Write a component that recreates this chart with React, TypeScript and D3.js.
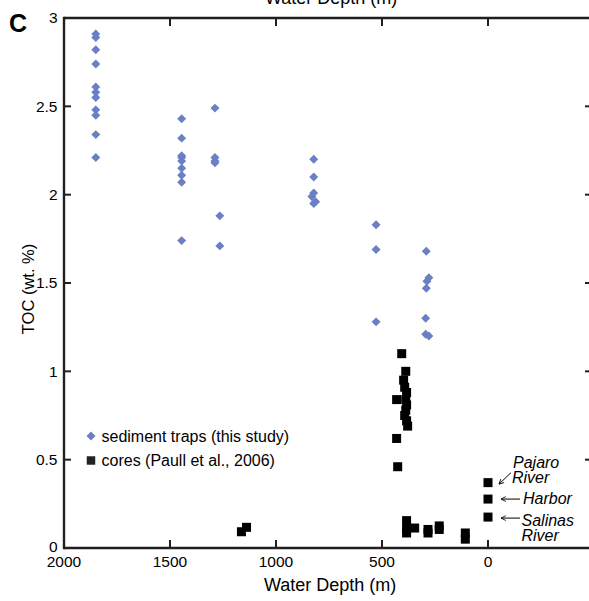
import React from 'react';
import * as d3 from 'd3';

const W = 589;
const H = 601;

const xTickValues = [2000, 1500, 1000, 500, 0];
const xTickLabels = ['2000', '1500', '1000', '500', '0'];
const yTickValues = [0, 0.5, 1, 1.5, 2, 2.5, 3];
const yTickLabels = ['0', '0.5', '1', '1.5', '2', '2.5', '3'];

// sediment traps (this study)
const trapDepth = [
  1850, 1850, 1850, 1850, 1850, 1850, 1850, 1850, 1850, 1850, 1850,
  1445, 1445, 1445, 1445, 1445, 1445, 1445, 1445, 1445,
  1288, 1288, 1288, 1288, 1265, 1265,
  822, 822, 822, 831, 813, 822,
  528, 528, 528,
  291, 279, 288, 291, 294, 279, 294,
];
const trapToc = [
  2.91, 2.89, 2.82, 2.74, 2.61, 2.58, 2.55, 2.48, 2.45, 2.34, 2.21,
  2.43, 2.32, 2.22, 2.21, 2.19, 2.15, 2.11, 2.07, 1.74,
  2.49, 2.21, 2.19, 2.18, 1.88, 1.71,
  2.20, 2.10, 2.01, 1.99, 1.96, 1.95,
  1.83, 1.69, 1.28,
  1.68, 1.53, 1.51, 1.47, 1.30, 1.20, 1.21,
];

// cores (Paull et al., 2006)
const coreDepth = [
  407, 388, 398, 393, 384, 388, 431, 384, 388, 393, 384, 379, 431, 426,
  1163, 1139,
  384, 384, 384, 346,
  283, 283, 230, 230, 107, 107,
];
const coreToc = [
  1.10, 1.00, 0.95, 0.91, 0.88, 0.84, 0.84, 0.81, 0.78, 0.75, 0.72, 0.69, 0.62, 0.46,
  0.092, 0.117,
  0.155, 0.108, 0.085, 0.113,
  0.105, 0.085, 0.125, 0.105, 0.085, 0.05,
];

// river / harbor samples at 0 m
const riverDepth = [0, 0, 0];
const riverToc = [0.37, 0.277, 0.175];

const legendLabels = ['sediment traps (this study)', 'cores (Paull et al., 2006)'];

const FONT = '"Liberation Sans", Arial, Helvetica, sans-serif';
const AXIS = '#231f20';
const BLUE = '#6b7fc4';

export default function App() {
  const x = d3.scaleLinear().domain([2000, -500]).range([64, 594]);
  const y = d3.scaleLinear().domain([0, 3]).range([548, 18]);
  const diamondPath = d3.symbol().type(d3.symbolSquare).size(40)() as string;
  const squarePath = d3.symbol().type(d3.symbolSquare).size(81)() as string;

  const x0 = x.range()[0];
  const x1 = x.range()[1];
  const yb = y.range()[0];
  const yt = y.range()[1];

  const rx = x(0);
  const pajY = y(riverToc[0]);
  const harY = y(riverToc[1]);
  const salY = y(riverToc[2]);

  return (
    <svg
      width={W}
      height={H}
      style={{ position: 'absolute', left: 0, top: 0, background: '#fff' }}
      fontFamily={FONT}
    >
      <defs>
        <marker id="ah" viewBox="0 0 10 10" refX="9" refY="5" markerWidth="6" markerHeight="6" orient="auto-start-reverse">
          <path d="M1,1 L9,5 L1,9" fill="none" stroke="#000" strokeWidth={1.4} />
        </marker>
      </defs>
      <rect x={0} y={0} width={W} height={H} fill="#fff" />

      {/* cut-off title from panel above */}
      <text x={265} y={4} fontSize={18} fill="#000">Water Depth (m)</text>

      {/* panel letter */}
      <text x={9} y={32} fontSize={25} fontWeight="bold" fill="#000">C</text>

      {/* frame */}
      <g stroke={AXIS} strokeWidth={2.4} fill="none">
        <line x1={x0} y1={yt} x2={x1} y2={yt} />
        <line x1={x0} y1={yb} x2={x1} y2={yb} />
        <line x1={x0} y1={yt - 1.2} x2={x0} y2={yb + 1.2} />
        <line x1={x1} y1={yt - 1.2} x2={x1} y2={yb + 1.2} />
      </g>

      {/* x ticks */}
      <g stroke={AXIS} strokeWidth={2}>
        {xTickValues.map((v) => (
          <g key={'xt' + v}>
            <line x1={x(v)} x2={x(v)} y1={yb} y2={yb - 8} />
            <line x1={x(v)} x2={x(v)} y1={yt} y2={yt + 8} />
          </g>
        ))}
      </g>
      {xTickValues.map((v, i) => (
        <text key={'xl' + v} x={x(v)} y={567} fontSize={15.5} textAnchor="middle" fill="#000">
          {xTickLabels[i]}
        </text>
      ))}

      {/* y ticks */}
      <g stroke={AXIS} strokeWidth={2}>
        {yTickValues.map((v) => (
          <g key={'yt' + v}>
            <line x1={x0} x2={x0 + 7} y1={y(v)} y2={y(v)} />
            <line x1={x1} x2={x1 - 9} y1={y(v)} y2={y(v)} />
          </g>
        ))}
      </g>
      {yTickValues.map((v, i) => (
        <text
          key={'yl' + v}
          x={57.5}
          y={v === 0 ? y(v) - 1.5 : y(v)}
          dy="0.35em"
          fontSize={15.5}
          textAnchor="end"
          fill="#000"
        >
          {yTickLabels[i]}
        </text>
      ))}

      {/* axis titles */}
      <text x={264} y={591} fontSize={18} fill="#000">Water Depth (m)</text>
      <text
        transform={`translate(34,289) rotate(-90)`}
        fontSize={16.5}
        textAnchor="middle"
        fill="#000"
      >
        TOC (wt. %)
      </text>

      {/* cores */}
      <g fill="#000">
        {coreDepth.map((d, i) => (
          <path key={'c' + i} d={squarePath} transform={`translate(${x(d)},${y(coreToc[i])})`} />
        ))}
        {riverDepth.map((d, i) => (
          <path key={'r' + i} d={squarePath} transform={`translate(${x(d)},${y(riverToc[i])})`} />
        ))}
      </g>

      {/* traps */}
      <g fill={BLUE}>
        {trapDepth.map((d, i) => (
          <path
            key={'t' + i}
            d={diamondPath}
            transform={`translate(${x(d)},${y(trapToc[i])}) rotate(45)`}
          />
        ))}
      </g>

      {/* river annotations */}
      <g stroke="#000" strokeWidth={1} fill="none">
        <line x1={rx + 23} y1={pajY - 10} x2={rx + 11} y2={pajY + 1.5} markerEnd="url(#ah)" />
        <line x1={rx + 32} y1={harY} x2={rx + 13} y2={harY} markerEnd="url(#ah)" />
        <line x1={rx + 32} y1={salY + 1} x2={rx + 13} y2={salY + 1} markerEnd="url(#ah)" />
      </g>
      <g fontSize={16} fontStyle="italic" fill="#000">
        <text x={rx + 25} y={pajY - 15}>Pajaro</text>
        <text x={rx + 24} y={pajY + 0.5}>River</text>
        <text x={rx + 35} y={harY + 4.5}>Harbor</text>
        <text x={rx + 33.5} y={salY + 8.5}>Salinas</text>
        <text x={rx + 33.5} y={salY + 24}>River</text>
      </g>

      {/* legend */}
      <path d={diamondPath} fill={BLUE} transform="translate(91,436) rotate(45)" />
      <text x={101.5} y={436} dy="0.35em" fontSize={16} fill="#000">{legendLabels[0]}</text>
      <path d={d3.symbol().type(d3.symbolSquare).size(72)() as string} fill="#222" transform="translate(91,460.5)" />
      <text x={101.5} y={460.5} dy="0.35em" fontSize={16} fill="#000">{legendLabels[1]}</text>
    </svg>
  );
}
